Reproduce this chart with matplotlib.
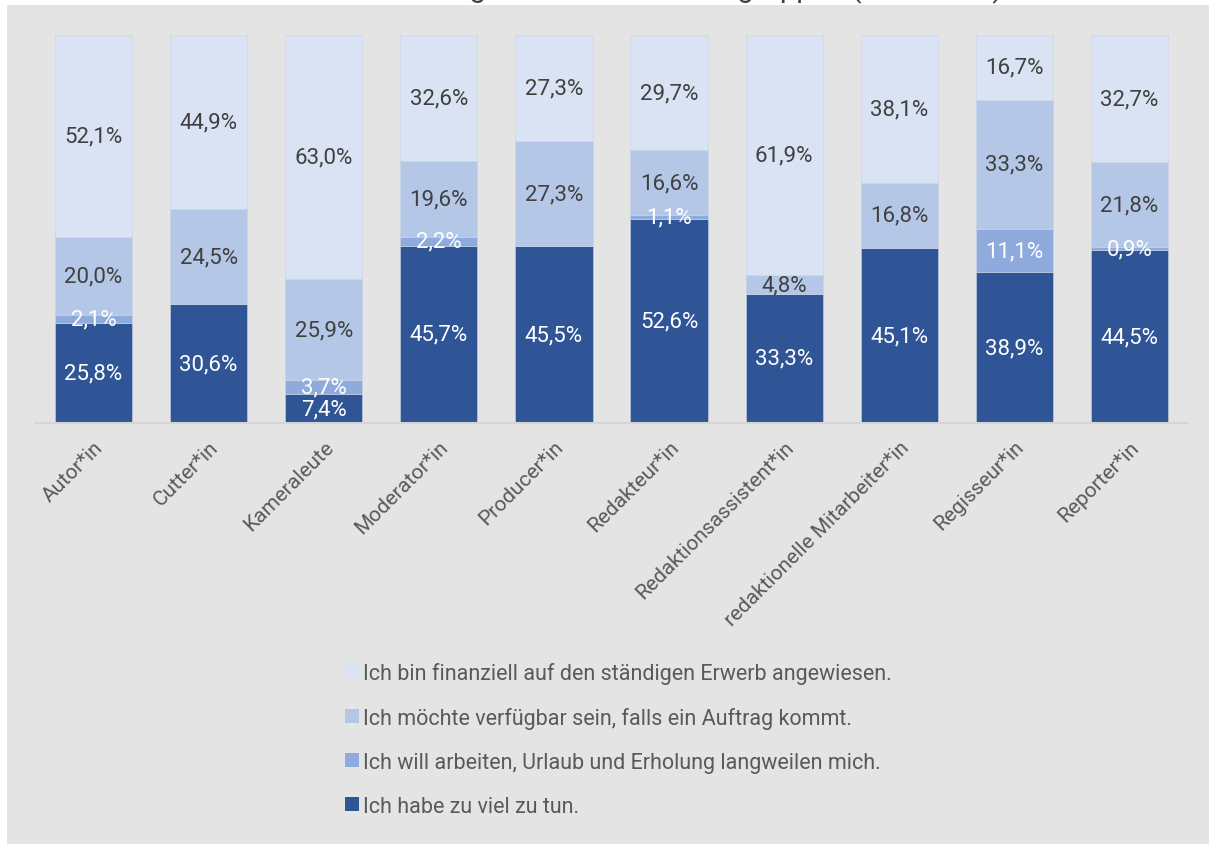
import matplotlib
matplotlib.use("Agg")
import matplotlib.pyplot as plt
from matplotlib.patches import Rectangle, Patch
import numpy as np

# Berufsgruppen (x axis)
categories = ["Autor*in", "Cutter*in", "Kameraleute", "Moderator*in", "Producer*in",
              "Redakteur*in", "Redaktionsassistent*in", "redaktionelle Mitarbeiter*in",
              "Regisseur*in", "Reporter*in"]

# series, bottom to top (percent)
zu_viel = [25.8, 30.6, 7.4, 45.7, 45.5, 52.6, 33.3, 45.1, 38.9, 44.5]
will_arbeiten = [2.1, 0, 3.7, 2.2, 0, 1.1, 0, 0, 11.1, 0.9]
verfuegbar = [20.0, 24.5, 25.9, 19.6, 27.3, 16.6, 4.8, 16.8, 33.3, 21.8]
finanziell = [52.1, 44.9, 63.0, 32.6, 27.3, 29.7, 61.9, 38.1, 16.7, 32.7]

series_names = ["Ich habe zu viel zu tun.",
                "Ich will arbeiten, Urlaub und Erholung langweilen mich.",
                "Ich möchte verfügbar sein, falls ein Auftrag kommt.",
                "Ich bin finanziell auf den ständigen Erwerb angewiesen."]
series = [zu_viel, will_arbeiten, verfuegbar, finanziell]
colors = ["#2f5597", "#8faadc", "#b4c7e7", "#dae3f3"]
label_colors = ["white", "white", "#404040", "#404040"]

title = "Gründe für Verfügbarkeit nach Berufsgruppen (in Prozent)"

plt.rcParams["font.family"] = ["Roboto", "DejaVu Sans"]

W, H = 1209, 845
fig = plt.figure(figsize=(W / 100, H / 100), dpi=100)
fig.patch.set_facecolor("white")

# grey background panel
fig.patches.append(Rectangle((7 / W, 0), 1 - 7 / W, 1 - 6 / H, transform=fig.transFigure,
                             facecolor="#e4e4e4", edgecolor="none", zorder=-5))

# title, cut off at the top
fig.text(0.52, 1 + 3 / H, title, ha="center", va="baseline", fontsize=21,
         color="#404040")

ax = fig.add_axes([36 / W, 1 - 424 / H, (1187 - 36) / W, (424 - 36) / H])
ax.set_facecolor("none")

x = np.arange(len(categories))
bottom = np.zeros(len(categories))
for vals, col, lcol in zip(series, colors, label_colors):
    vals = np.array(vals)
    ax.bar(x, vals, 0.67, bottom=bottom, color=col, edgecolor="#c8d3e6", linewidth=0.4)
    for xi, b, v in zip(x, bottom, vals):
        if v > 0:
            ax.text(xi, b + v / 2, f"{v:.1f}%".replace(".", ","), ha="center", va="center",
                    fontsize=16, color=lcol)
    bottom += vals

ax.set_xlim(-0.5, len(categories) - 0.5)
ax.set_ylim(0, 100)
for s in ["top", "right", "left"]:
    ax.spines[s].set_visible(False)
ax.spines["bottom"].set_color("#d4d4d4")
ax.spines["bottom"].set_linewidth(1.5)
ax.set_yticks([])
ax.set_xticks(x)
ax.set_xticklabels(categories, rotation=45, ha="right", va="top", rotation_mode="anchor",
                   fontsize=15, color="#595959")
ax.tick_params(axis="x", length=0, pad=10)

handles = [Patch(facecolor=c, edgecolor="none") for c in colors[::-1]]
fig.legend(handles, series_names[::-1], loc="upper left", bbox_to_anchor=(334 / W, 1 - 652 / H),
           frameon=False, fontsize=15.5, labelcolor="#595959", handlelength=0.65,
           handleheight=0.65, handletextpad=0.2, labelspacing=1.07, borderpad=0)

fig.savefig("out.png", dpi=100)
